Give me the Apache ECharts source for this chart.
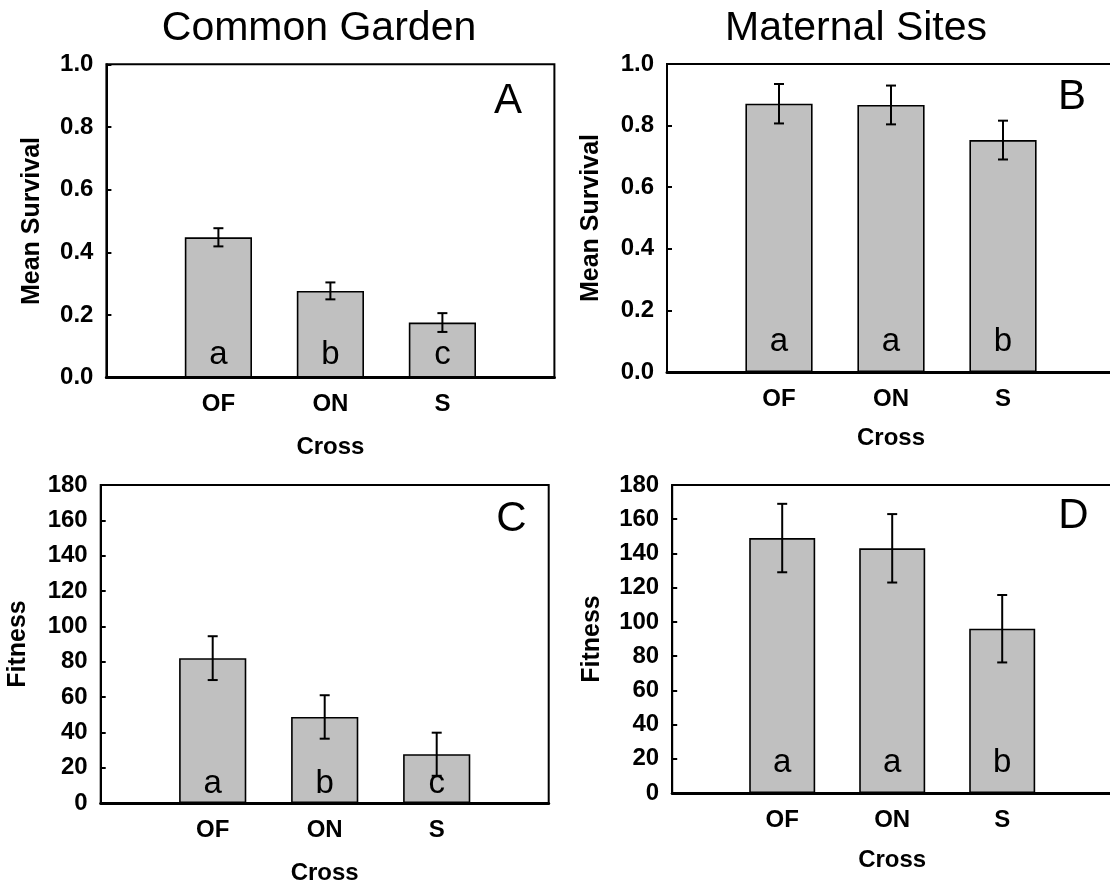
<!DOCTYPE html>
<html>
<head>
<meta charset="utf-8">
<script src="https://cdn.jsdelivr.net/npm/echarts@6/dist/echarts.min.js"></script>
<style>
  html, body { margin: 0; padding: 0; background: #fff; }
  #chart { width: 1110px; height: 886px; }
</style>
</head>
<body>
<div id="chart"></div>
<script>
// ---- Data ----
const categories = ['OF', 'ON', 'S'];
const columnTitles = ['Common Garden', 'Maternal Sites'];
const panelLetters = ['A', 'B', 'C', 'D'];

const survivalGarden = [0.448, 0.277, 0.176];
const survivalGardenErr = [0.029, 0.027, 0.030];
const survivalGardenGroups = ['a', 'b', 'c'];

const survivalMaternal = [0.871, 0.867, 0.753];
const survivalMaternalErr = [0.064, 0.063, 0.063];
const survivalMaternalGroups = ['a', 'a', 'b'];

const fitnessGarden = [82.0, 48.7, 27.6];
const fitnessGardenErr = [12.4, 12.3, 12.2];
const fitnessGardenGroups = ['a', 'b', 'c'];

const fitnessMaternal = [149.0, 143.0, 96.0];
const fitnessMaternalErr = [20.0, 20.0, 19.7];
const fitnessMaternalGroups = ['a', 'a', 'b'];

const survivalAxis = { min: 0, max: 1, interval: 0.2, name: 'Mean Survival', decimals: 1 };
const fitnessAxis = { min: 0, max: 180, interval: 20, name: 'Fitness', decimals: 0 };
const xAxisName = 'Cross';

// ---- Layout ----
const FONT = '"Liberation Sans", Arial, Helvetica, sans-serif';
const panels = [
  { grid: { left: 106.4, top: 64.3, width: 448, height: 313.4 }, axis: survivalAxis, vals: survivalGarden, errs: survivalGardenErr, groups: survivalGardenGroups, nameGap: 62, letterDist: 6, xNameGap: 58 },
  { grid: { left: 667, top: 64, width: 448, height: 308 }, axis: survivalAxis, vals: survivalMaternal, errs: survivalMaternalErr, groups: survivalMaternalGroups, nameGap: 63, letterDist: 14, xNameGap: 54 },
  { grid: { left: 100.7, top: 485, width: 448, height: 318 }, axis: fitnessAxis, vals: fitnessGarden, errs: fitnessGardenErr, groups: fitnessGardenGroups, nameGap: 70, letterDist: 3, xNameGap: 58 },
  { grid: { left: 672.2, top: 485, width: 440, height: 308 }, axis: fitnessAxis, vals: fitnessMaternal, errs: fitnessMaternalErr, groups: fitnessMaternalGroups, nameGap: 68, letterDist: 14, xNameGap: 55 }
];
const letterPos = [[508, 101], [1072, 97], [511.5, 519.5], [1073.5, 516]];
const titlePos = [[319, 28.5], [856, 28.5]];

const axisCats = [''].concat(categories, ['']);

const grids = [], xAxes = [], yAxes = [], series = [];
panels.forEach((p, i) => {
  grids.push(Object.assign({
    show: true, borderColor: '#000', borderWidth: 2, backgroundColor: 'transparent',
    containLabel: false, outerBoundsMode: 'none'
  }, p.grid));
  xAxes.push({
    type: 'category', gridIndex: i, data: axisCats, boundaryGap: false,
    axisLine: { show: true, lineStyle: { color: '#000', width: 3 } },
    axisTick: { show: false },
    splitLine: { show: false },
    axisLabel: { interval: 0, margin: 15, color: '#000', fontFamily: FONT, fontWeight: 'bold', fontSize: 24 },
    name: xAxisName, nameLocation: 'middle', nameGap: p.xNameGap,
    nameTextStyle: { color: '#000', fontFamily: FONT, fontWeight: 'bold', fontSize: 24 }
  });
  yAxes.push({
    type: 'value', gridIndex: i, min: p.axis.min, max: p.axis.max, interval: p.axis.interval,
    axisLine: { show: true, lineStyle: { color: '#000', width: 2 } },
    axisTick: { show: true, inside: true, length: 5, lineStyle: { color: '#000', width: 2 } },
    splitLine: { show: false },
    axisLabel: { margin: 13, color: '#000', fontFamily: FONT, fontWeight: 'bold', fontSize: 24,
      formatter: v => v.toFixed(p.axis.decimals) },
    name: p.axis.name, nameLocation: 'middle', nameGap: p.nameGap, nameRotate: 90,
    nameTextStyle: { color: '#000', fontFamily: FONT, fontWeight: 'bold', fontSize: 25 }
  });
  series.push({
    type: 'bar', xAxisIndex: i, yAxisIndex: i, barWidth: '60%',
    data: p.vals.map((v, k) => [k + 1, v]),
    itemStyle: { color: '#c0c0c0', borderColor: '#000', borderWidth: 1.6 },
    label: {
      show: true, position: 'insideBottom', distance: p.letterDist,
      formatter: prm => p.groups[prm.dataIndex],
      color: '#000', fontFamily: FONT, fontSize: 33, fontWeight: 'normal'
    },
    silent: true, animation: false, z: 2
  });
  series.push({
    type: 'custom', xAxisIndex: i, yAxisIndex: i,
    data: p.vals.map((v, k) => [k + 1, v, p.errs[k]]),
    encode: { x: 0, y: 1 },
    renderItem: (params, api) => {
      const x = api.value(0), y = api.value(1), e = api.value(2);
      const top = api.coord([x, y + e]);
      const bot = api.coord([x, y - e]);
      const hw = 5;
      const style = { stroke: '#000', lineWidth: 2, fill: null };
      return { type: 'group', children: [
        { type: 'line', shape: { x1: top[0], y1: top[1], x2: bot[0], y2: bot[1] }, style },
        { type: 'line', shape: { x1: top[0] - hw, y1: top[1], x2: top[0] + hw, y2: top[1] }, style },
        { type: 'line', shape: { x1: bot[0] - hw, y1: bot[1], x2: bot[0] + hw, y2: bot[1] }, style }
      ] };
    },
    silent: true, animation: false, z: 5
  });
});

const graphics = [];
columnTitles.forEach((t, i) => {
  graphics.push({ type: 'text', x: titlePos[i][0], y: titlePos[i][1], silent: true,
    style: { text: t, fill: '#000', font: 'normal 41px ' + FONT, textAlign: 'center', textVerticalAlign: 'middle' } });
});
panelLetters.forEach((t, i) => {
  graphics.push({ type: 'text', x: letterPos[i][0], y: letterPos[i][1], silent: true,
    style: { text: t, fill: '#000', font: 'normal 42px ' + FONT, textAlign: 'center', textVerticalAlign: 'middle' } });
});

const chart = echarts.init(document.getElementById('chart'), null, { renderer: 'canvas' });
chart.setOption({
  animation: false,
  backgroundColor: '#fff',
  grid: grids, xAxis: xAxes, yAxis: yAxes, series: series,
  graphic: graphics
});
</script>
</body>
</html>
